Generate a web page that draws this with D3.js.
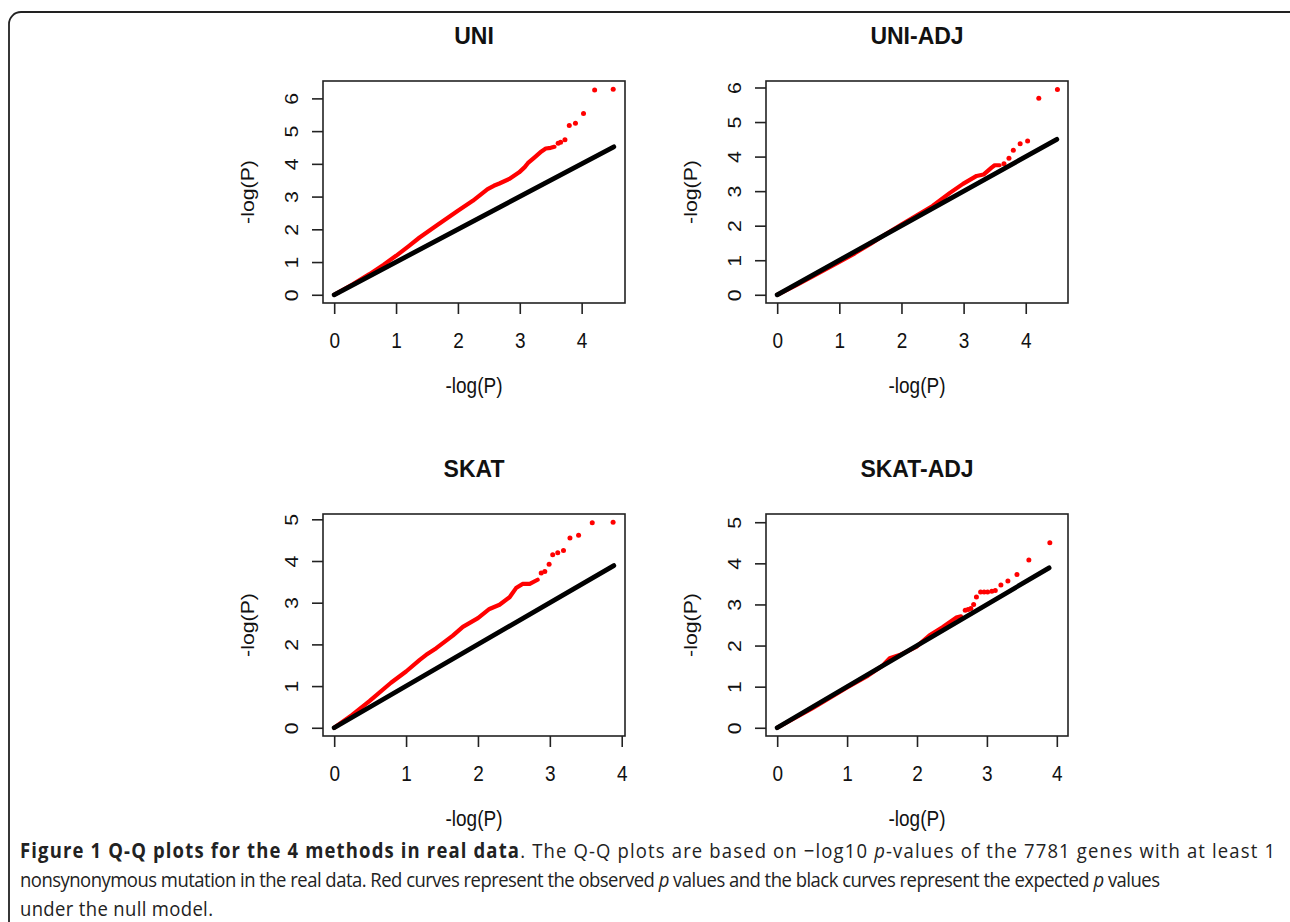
<!DOCTYPE html>
<html>
<head>
<meta charset="utf-8">
<script src="https://cdn.jsdelivr.net/npm/d3@7"></script>
<style>
  body { margin: 0; background: #fff; }
  svg { display: block; }
  .plot text { font-family: "Liberation Sans", Arial, Helvetica, sans-serif; fill: #111; }
  .caption { font-family: "Open Sans", "Noto Sans", sans-serif; font-size: 18.5px; fill: #222; }
</style>
</head>
<body>
<svg id="chart" width="1290" height="922"></svg>
<script>
// panel titles and axis limits
const titles = ["UNI", "UNI-ADJ", "SKAT", "SKAT-ADJ"];
const xLimits = [4.52, 4.5, 3.89, 4.0];
const yLimits = [6.28, 5.95, 4.93, 5.0];
const nullMax = [4.52, 4.5, 3.89, 3.89];
const xTicks = [[0,1,2,3,4], [0,1,2,3,4], [0,1,2,3,4], [0,1,2,3,4]];
const yTicks = [[0,1,2,3,4,5,6], [0,1,2,3,4,5,6], [0,1,2,3,4,5], [0,1,2,3,4,5]];

// observed -log10(p) vs expected, dense part of each curve
const uniCurve = [[0,0],[0.3,0.32],[0.57,0.63],[0.8,0.92],[1.0,1.19],[1.2,1.48],[1.38,1.75],[1.65,2.11],
  [2.0,2.57],[2.24,2.87],[2.48,3.23],[2.58,3.33],[2.67,3.40],[2.83,3.54],[2.99,3.74],[3.08,3.90],
  [3.13,4.02],[3.24,4.20],[3.35,4.38],[3.42,4.47],[3.50,4.49],[3.56,4.52]];
const uniAdjCurve = [[0,0],[0.3,0.27],[0.57,0.53],[1.0,0.95],[1.25,1.2],[1.5,1.47],[1.75,1.76],[2.0,2.03],
  [2.25,2.3],[2.5,2.57],[2.78,2.95],[2.99,3.21],[3.21,3.44],[3.32,3.48],[3.45,3.68],[3.50,3.75],[3.58,3.75]];
const skatCurve = [[0,0],[0.25,0.31],[0.49,0.64],[0.79,1.08],[1.0,1.35],[1.19,1.63],[1.28,1.75],[1.42,1.91],
  [1.65,2.21],[1.79,2.42],[2.0,2.63],[2.16,2.85],[2.30,2.95],[2.44,3.13],[2.53,3.35],[2.62,3.45],
  [2.72,3.45],[2.83,3.55]];
const skatAdjCurve = [[0,0],[0.5,0.47],[1.0,0.98],[1.3,1.27],[1.5,1.5],[1.61,1.69],[1.75,1.77],[1.99,1.97],
  [2.18,2.25],[2.37,2.45],[2.56,2.68],[2.63,2.71]];

// sparse top points
const uniTail = [[3.62,4.63],[3.66,4.66],[3.73,4.74],[3.80,5.17],[3.90,5.24],[4.03,5.54],[4.21,6.26],[4.51,6.28]];
const uniAdjTail = [[3.65,3.79],[3.73,3.95],[3.80,4.18],[3.91,4.37],[4.03,4.45],[4.21,5.69],[4.51,5.94]];
const skatTail = [[2.88,3.71],[2.93,3.75],[2.99,3.92],[3.04,4.15],[3.11,4.20],[3.19,4.25],[3.28,4.55],
  [3.40,4.62],[3.59,4.92],[3.88,4.93]];
const skatAdjTail = [[2.69,2.86],[2.73,2.88],[2.77,2.9],[2.81,3.0],[2.85,3.18],[2.91,3.30],[2.96,3.30],
  [3.01,3.30],[3.07,3.32],[3.12,3.34],[3.20,3.47],[3.30,3.57],[3.43,3.73],[3.60,4.08],[3.90,4.50]];

const curves = [uniCurve, uniAdjCurve, skatCurve, skatAdjCurve];
const tails = [uniTail, uniAdjTail, skatTail, skatAdjTail];

const svg = d3.select("#chart");
const stretch = 1.12;   // the figure's text is drawn a bit taller than wide

// outer figure frame
svg.append("rect")
  .attr("x", 9).attr("y", 12)
  .attr("width", 1300).attr("height", 960)
  .attr("rx", 12)
  .attr("fill", "none")
  .attr("stroke", "#222")
  .attr("stroke-width", 1.8);

// panel layout
const colLeft = [323, 766];
const rowTop = [81, 514];
const boxW = 302, boxH = 222;

titles.forEach((title, i) => {
  const left = colLeft[i % 2];
  const top = rowTop[Math.floor(i / 2)];
  const g = svg.append("g").attr("class", "plot");

  const x = d3.scaleLinear()
    .domain([-0.04 * xLimits[i], 1.04 * xLimits[i]])
    .range([left, left + boxW]);
  const y = d3.scaleLinear()
    .domain([-0.04 * yLimits[i], 1.04 * yLimits[i]])
    .range([top + boxH, top]);

  // red observed curve
  const line = d3.line().x(d => x(d[0])).y(d => y(d[1]));
  g.append("path")
    .datum(curves[i])
    .attr("d", line)
    .attr("fill", "none")
    .attr("stroke", "#ff0000")
    .attr("stroke-width", 4.2)
    .attr("stroke-linejoin", "round")
    .attr("stroke-linecap", "round");

  g.selectAll("circle.tail")
    .data(tails[i])
    .join("circle")
      .attr("class", "tail")
      .attr("cx", d => x(d[0]))
      .attr("cy", d => y(d[1]))
      .attr("r", 2.5)
      .attr("fill", "#ff0000");

  // black expected line
  g.append("path")
    .datum([[0, 0], [nullMax[i], nullMax[i]]])
    .attr("d", line)
    .attr("stroke", "#000")
    .attr("stroke-width", 4.8)
    .attr("stroke-linecap", "round");

  // box
  g.append("rect")
    .attr("x", left).attr("y", top)
    .attr("width", boxW).attr("height", boxH)
    .attr("fill", "none")
    .attr("stroke", "#222")
    .attr("stroke-width", 1.6);

  // x axis
  const xa = g.append("g")
    .attr("transform", `translate(0,${top + boxH})`)
    .call(d3.axisBottom(x).tickValues(xTicks[i]).tickSize(11).tickFormat(d3.format("d")));
  xa.select(".domain").remove();
  xa.selectAll("line").attr("stroke", "#222").attr("stroke-width", 1.6);
  xa.selectAll("text")
    .attr("y", null).attr("dy", null)
    .attr("transform", `translate(0,45) scale(1,${stretch})`)
    .attr("font-size", 19)
    .attr("fill", "#111");

  // y axis, labels parallel to the axis as in R
  const ya = g.append("g")
    .attr("transform", `translate(${left},0)`)
    .call(d3.axisLeft(y).tickValues(yTicks[i]).tickSize(11).tickFormat(d3.format("d")));
  ya.select(".domain").remove();
  ya.selectAll("line").attr("stroke", "#222").attr("stroke-width", 1.6);
  ya.selectAll("text")
    .attr("x", null)
    .attr("dy", "0.35em")
    .attr("text-anchor", "middle")
    .attr("transform", `translate(-32,0) rotate(-90) scale(${stretch},1)`)
    .attr("font-size", 19)
    .attr("fill", "#111");

  // titles
  g.append("text")
    .attr("transform", `translate(${left + boxW / 2},${top - 37}) scale(1,1.04)`)
    .attr("text-anchor", "middle")
    .attr("font-size", 23)
    .attr("font-weight", "bold")
    .text(title);

  g.append("text")
    .attr("transform", `translate(${left + boxW / 2},${top + boxH + 90}) scale(1,${stretch})`)
    .attr("text-anchor", "middle")
    .attr("font-size", 19)
    .text("-log(P)");

  g.append("text")
    .attr("transform", `translate(${left - 76},${top + boxH / 2}) rotate(-90) scale(${stretch},1)`)
    .attr("dy", "0.35em")
    .attr("text-anchor", "middle")
    .attr("font-size", 19)
    .text("-log(P)");
});

// caption
const captionLines = [
  [["Figure 1 Q-Q plots for the 4 methods in real data", "bold"], [". The Q-Q plots are based on \u2212log10 ", ""], ["p", "italic"], ["-values of the 7781 genes with at least 1", ""]],
  [["nonsynonymous mutation in the real data. Red curves represent the observed ", ""], ["p", "italic"], [" values and the black curves represent the expected ", ""], ["p", "italic"], [" values", ""]],
  [["under the null model.", ""]]
];
const captionY = [858, 887, 916];
const captionWidth = [1255, 1140, 193];

captionLines.forEach((parts, k) => {
  const t = svg.append("text")
    .attr("class", "caption")
    .attr("transform", `translate(20,${captionY[k]}) scale(1,${stretch})`);
  parts.forEach(([s, style]) => {
    t.append("tspan")
      .attr("font-weight", style === "bold" ? "bold" : null)
      .attr("font-style", style === "italic" ? "italic" : null)
      .text(s);
  });
  // spread the letters so each line ends where it does in the figure
  const n = parts.reduce((a, p) => a + p[0].length, 0);
  const natural = t.node().getComputedTextLength();
  t.attr("letter-spacing", (captionWidth[k] - natural) / (n - 1));
});
</script>
</body>
</html>
